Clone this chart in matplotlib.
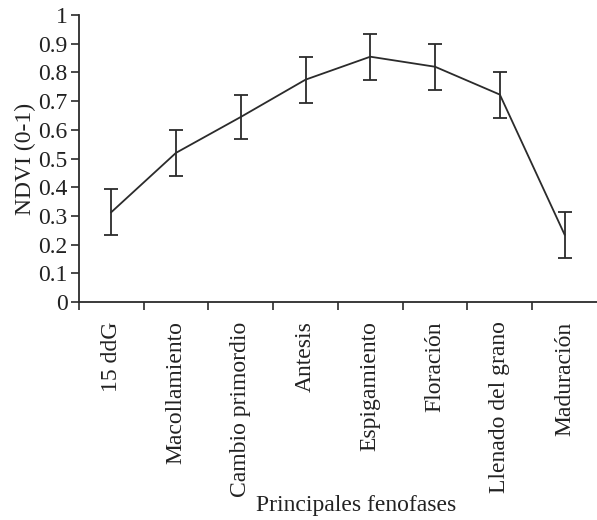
import matplotlib
matplotlib.use("Agg")
import matplotlib.pyplot as plt
import numpy as np

# data
fases = ["15 ddG", "Macollamiento", "Cambio primordio", "Antesis",
         "Espigamiento", "Floración", "Llenado del grano", "Maduración"]
ndvi = [0.313, 0.52, 0.645, 0.775, 0.855, 0.82, 0.723, 0.235]
err = [0.08, 0.08, 0.078, 0.08, 0.08, 0.08, 0.08, 0.08]

plt.rcParams['font.family'] = ['Liberation Serif', 'DejaVu Serif']
col = '#2b2b2b'

fig = plt.figure(figsize=(5.97, 5.20), dpi=100)
ax = fig.add_axes([0.132, 0.419, 0.868, 0.552])

x = np.arange(len(fases))
ax.errorbar(x, ndvi, yerr=err, color=col, lw=1.3, elinewidth=1.3,
            capsize=5, capthick=1.3)

ax.set_xlim(-0.5, len(fases) - 0.5)
ax.set_ylim(0, 1)
ax.set_yticks(np.arange(0, 1.01, 0.1))
ax.set_yticklabels(["0"] + ["%.1f" % v for v in np.arange(0.1, 0.95, 0.1)] + ["1"])

# ticks at boundaries, labels at centres
ax.set_xticks(np.arange(-0.5, len(fases) - 0.5, 1))
ax.set_xticklabels([])
ax.set_xticks(x, minor=True)
ax.set_xticklabels(fases, minor=True, rotation=90)
ax.tick_params(axis='x', which='minor', length=0, pad=14)
ax.tick_params(axis='x', which='major', length=6, width=1.2, color=col)
ax.tick_params(axis='y', length=6, width=1.2, color=col, pad=2)
ax.tick_params(which='both', labelsize=17, labelcolor='#222222')

for s in ['top', 'right']:
    ax.spines[s].set_visible(False)
for s in ['left', 'bottom']:
    ax.spines[s].set_color(col)
    ax.spines[s].set_linewidth(1.3)

ax.set_ylabel("NDVI (0-1)", fontsize=17, color='#222222', labelpad=2)
fig.text(0.596, 0.028, "Principales fenofases", fontsize=17, color='#222222',
         ha='center', va='center')

fig.savefig("out.png", dpi=100)
